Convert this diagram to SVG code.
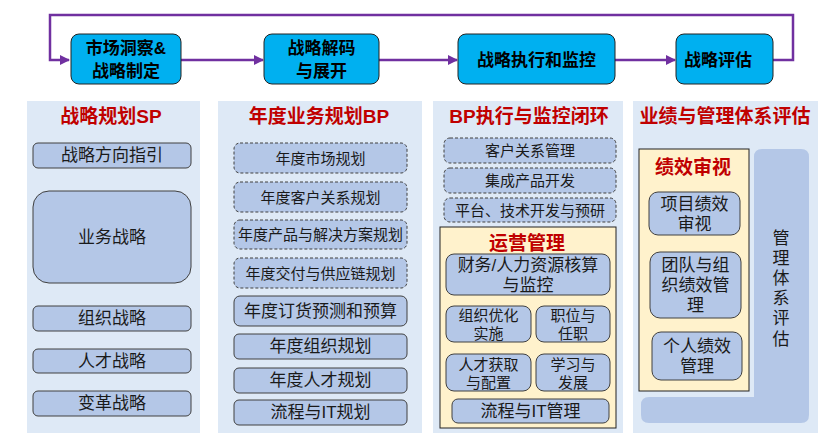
<svg xmlns="http://www.w3.org/2000/svg" width="836" height="440" viewBox="0 0 836 440">
<defs>
<marker id="ah" viewBox="0 0 10 10" refX="9" refY="5" markerWidth="4" markerHeight="4" orient="auto" markerUnits="strokeWidth"><path d="M0,0 L10,5 L0,10 z" fill="#7030A0"/></marker>
<style>
text{font-family:"Liberation Sans","Noto Sans CJK SC",sans-serif;text-anchor:middle;dominant-baseline:central;fill:#1a1a1a}
.top{fill:#00B0F0;stroke:#222;stroke-width:1}
.tt{font-size:17px;font-weight:bold;fill:#000}
.col{fill:#DEE9F6}
.ct{font-size:19px;font-weight:bold;fill:#C00000}
.n{fill:#B4C7E7;stroke:#404040;stroke-width:1}
.d{fill:#B4C7E7;stroke:#404040;stroke-width:1;stroke-dasharray:3 2}
.y{fill:#FFF2CC;stroke:#222;stroke-width:1}
.t17{font-size:17px}
.t15{font-size:15px}
.conn{fill:none;stroke:#7030A0;stroke-width:2.5}
</style>
</defs>
<rect width="836" height="440" fill="#fff"/>
<g id="connectors">
<path class="conn" d="M773,60 H793 V15 H50 V60 H69" marker-end="url(#ah)"/>
<path class="conn" d="M181,60 H263" marker-end="url(#ah)"/>
<path class="conn" d="M379,60 H457" marker-end="url(#ah)"/>
<path class="conn" d="M615,60 H675" marker-end="url(#ah)"/>
</g>
<g id="top1"><rect class="top" x="71" y="34" width="110" height="50" rx="8"/><text class="tt" x="126" y="48.5">市场洞察&amp;<tspan x="126" dy="22">战略制定</tspan></text></g>
<g id="top2"><rect class="top" x="264" y="34" width="115" height="50" rx="8"/><text class="tt" x="321.5" y="48.5">战略解码<tspan x="321.5" dy="22">与展开</tspan></text></g>
<g id="top3"><rect class="top" x="458" y="34" width="157" height="50" rx="8"/><text class="tt" x="536.5" y="60">战略执行和监控</text></g>
<g id="top4"><rect class="top" x="676" y="34" width="97" height="50" rx="8"/><text class="tt" x="718" y="60">战略评估</text></g>

<g id="col1">
<rect class="col" x="27" y="101" width="173" height="332"/>
<text class="ct" x="111" y="116">战略规划SP</text>
<g id="c1n1"><rect class="n" x="33" y="143" width="158" height="25" rx="5"/><text class="t17" x="112" y="155.5">战略方向指引</text></g>
<g id="c1n2"><rect class="n" x="33" y="191" width="158" height="92" rx="16"/><text class="t17" x="112" y="237">业务战略</text></g>
<g id="c1n3"><rect class="n" x="33" y="306" width="158" height="25" rx="5"/><text class="t17" x="112" y="318.5">组织战略</text></g>
<g id="c1n4"><rect class="n" x="33" y="349" width="158" height="24" rx="5"/><text class="t17" x="112" y="361">人才战略</text></g>
<g id="c1n5"><rect class="n" x="33" y="391" width="158" height="25" rx="5"/><text class="t17" x="112" y="403.5">变革战略</text></g>
</g>

<g id="col2">
<rect class="col" x="218" y="101" width="204" height="332"/>
<text class="ct" x="319" y="116">年度业务规划BP</text>
<g id="c2n1"><rect class="d" x="234" y="143" width="173" height="30" rx="6"/><text class="t15" x="320.5" y="158">年度市场规划</text></g>
<g id="c2n2"><rect class="d" x="234" y="182" width="173" height="30" rx="6"/><text class="t15" x="320.5" y="197">年度客户关系规划</text></g>
<g id="c2n3"><rect class="d" x="234" y="220" width="173" height="29" rx="6"/><text class="t15" x="320.5" y="234.5">年度产品与解决方案规划</text></g>
<g id="c2n4"><rect class="d" x="234" y="258" width="173" height="30" rx="6"/><text class="t15" x="320.5" y="273">年度交付与供应链规划</text></g>
<g id="c2n5"><rect class="n" x="234" y="296" width="173" height="30" rx="6"/><text class="t17" x="320.5" y="311">年度订货预测和预算</text></g>
<g id="c2n6"><rect class="n" x="234" y="334" width="173" height="25" rx="5"/><text class="t17" x="320.5" y="346.5">年度组织规划</text></g>
<g id="c2n7"><rect class="n" x="234" y="368" width="173" height="25" rx="5"/><text class="t17" x="320.5" y="380.5">年度人才规划</text></g>
<g id="c2n8"><rect class="n" x="234" y="400" width="173" height="25" rx="5"/><text class="t17" x="320.5" y="412.5">流程与IT规划</text></g>
</g>

<g id="col3">
<rect class="col" x="433" y="101" width="190" height="332"/>
<text class="ct" x="529" y="116">BP执行与监控闭环</text>
<g id="c3n1"><rect class="d" x="444" y="138" width="172" height="25" rx="6"/><text class="t15" x="530" y="150.5">客户关系管理</text></g>
<g id="c3n2"><rect class="d" x="444" y="168" width="172" height="25" rx="6"/><text class="t15" x="530" y="180.5">集成产品开发</text></g>
<g id="c3n3"><rect class="d" x="444" y="198" width="172" height="24" rx="6"/><text class="t15" x="530" y="210">平台、技术开发与预研</text></g>
<g id="c3ops">
<rect class="y" x="440" y="227" width="176" height="201"/>
<text class="ct" x="527" y="243">运营管理</text>
<g id="c3n4"><rect class="n" x="446" y="254" width="164" height="41" rx="8"/><text class="t17" x="528" y="265">财务/人力资源核算<tspan x="528" dy="20">与监控</tspan></text></g>
<g id="c3n5"><rect class="n" x="446" y="306" width="85" height="36" rx="8"/><text class="t15" x="488.5" y="315.5">组织优化<tspan x="488.5" dy="17.5">实施</tspan></text></g>
<g id="c3n6"><rect class="n" x="536" y="306" width="74" height="36" rx="8"/><text class="t15" x="573" y="315.5">职位与<tspan x="573" dy="17.5">任职</tspan></text></g>
<g id="c3n7"><rect class="n" x="446" y="354" width="85" height="37" rx="8"/><text class="t15" x="488.5" y="364">人才获取<tspan x="488.5" dy="17.5">与配置</tspan></text></g>
<g id="c3n8"><rect class="n" x="536" y="354" width="74" height="37" rx="8"/><text class="t15" x="573" y="364">学习与<tspan x="573" dy="17.5">发展</tspan></text></g>
<g id="c3n9"><rect class="n" x="452" y="399" width="157" height="24" rx="6"/><text class="t17" x="530.5" y="411">流程与IT管理</text></g>
</g>
</g>

<g id="col4">
<rect class="col" x="633" y="101" width="185" height="332"/>
<text class="ct" x="725" y="116">业绩与管理体系评估</text>
<g id="c4sys"><path d="M762,149 H801 Q809,149 809,157 V415 Q809,423 801,423 H649 Q641,423 641,415 V405 Q641,397 649,397 H754 V157 Q754,149 762,149 Z" fill="#B4C7E7"/>
<text class="t17" x="781" y="238">管<tspan x="781" dy="20">理</tspan><tspan x="781" dy="20">体</tspan><tspan x="781" dy="20">系</tspan><tspan x="781" dy="20">评</tspan><tspan x="781" dy="20.5">估</tspan></text></g>
<g id="c4perf">
<rect class="y" x="639" y="149" width="110" height="242"/>
<text class="ct" x="693" y="167">绩效审视</text>
<g id="c4n1"><rect class="n" x="649" y="192" width="91" height="43" rx="9"/><text class="t17" x="694.5" y="204">项目绩效<tspan x="694.5" dy="20">审视</tspan></text></g>
<g id="c4n2"><rect class="n" x="650" y="252" width="91" height="66" rx="10"/><text class="t17" x="695.5" y="265">团队与组<tspan x="695.5" dy="20">织绩效管</tspan><tspan x="695.5" dy="20">理</tspan></text></g>
<g id="c4n3"><rect class="n" x="652" y="332" width="90" height="48" rx="9"/><text class="t17" x="697" y="346">个人绩效<tspan x="697" dy="20">管理</tspan></text></g>
</g>
</g>
</svg>
